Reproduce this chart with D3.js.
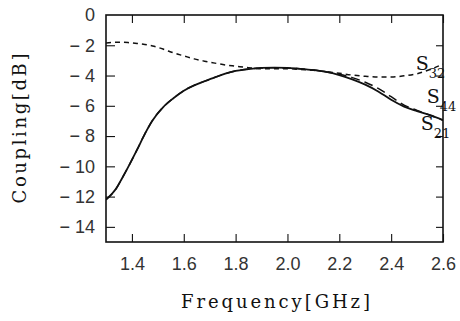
<!DOCTYPE html>
<html>
<head>
<meta charset="utf-8">
<script src="https://cdn.jsdelivr.net/npm/d3@7"></script>
<style>
  html, body { margin: 0; padding: 0; background: #fff; }
  svg { display: block; }
</style>
</head>
<body>
<svg id="chart" width="460" height="321"></svg>
<script>
// ---- data ----
const freq = [1.30, 1.34, 1.36, 1.39, 1.42, 1.45, 1.48, 1.52, 1.56, 1.60, 1.64, 1.68, 1.72, 1.76, 1.80, 1.85, 1.90, 1.95, 2.00, 2.05, 2.10, 2.15, 2.20, 2.25, 2.30, 2.35, 2.40, 2.45, 2.50, 2.55, 2.60];
const s21  = [-12.2, -11.45, -10.85, -9.9, -8.9, -7.85, -6.95, -6.1, -5.5, -5.0, -4.65, -4.38, -4.12, -3.88, -3.7, -3.57, -3.5, -3.48, -3.5, -3.56, -3.64, -3.76, -3.97, -4.25, -4.6, -5.05, -5.6, -6.05, -6.35, -6.62, -6.95];
const s44  = [-12.2, -11.45, -10.85, -9.9, -8.9, -7.85, -6.95, -6.1, -5.5, -5.0, -4.65, -4.38, -4.12, -3.88, -3.7, -3.57, -3.5, -3.48, -3.5, -3.56, -3.64, -3.76, -3.92, -4.14, -4.44, -4.85, -5.4, -5.95, -6.3, -6.62, -6.95];
const s32  = [-1.85, -1.8, -1.8, -1.83, -1.88, -1.95, -2.05, -2.25, -2.5, -2.7, -2.9, -3.05, -3.18, -3.3, -3.38, -3.48, -3.55, -3.55, -3.55, -3.6, -3.65, -3.75, -3.85, -3.97, -4.05, -4.1, -4.1, -4.02, -3.88, -3.6, -3.25];
const xTicks = [1.4, 1.6, 1.8, 2.0, 2.2, 2.4, 2.6];
const xTickLabels = ["1.4", "1.6", "1.8", "2.0", "2.2", "2.4", "2.6"];
const yTicks = [0, -2, -4, -6, -8, -10, -12, -14];
const yTickLabels = ["0", "\u2212 2", "\u2212 4", "\u2212 6", "\u2212 8", "\u2212 10", "\u2212 12", "\u2212 14"];
const seriesNames = ["S21", "S44", "S32"];
const xTitle = "Frequency[GHz]";
const yTitle = "Coupling[dB]";

// ---- layout ----
const L = 106, R = 443, T = 15, B = 242;
const svg = d3.select("#chart");
const x = d3.scaleLinear().domain([1.3, 2.6]).range([L, R]);
const y = d3.scaleLinear().domain([-15, 0]).range([B, T]);
const ink = "#111";
const tickFont = "'Liberation Sans', Arial, sans-serif";
const serif = "'DejaVu Serif', serif";

// axes with inward ticks
const gB = svg.append("g").attr("transform", `translate(0,${B})`)
  .call(d3.axisBottom(x).tickValues(xTicks).tickSize(-8).tickPadding(15)
    .tickFormat((d, i) => xTickLabels[i]));
const gT = svg.append("g").attr("transform", `translate(0,${T})`)
  .call(d3.axisTop(x).tickValues(xTicks).tickSize(-8).tickFormat(""));
const gL = svg.append("g").attr("transform", `translate(${L},0)`)
  .call(d3.axisLeft(y).tickValues(yTicks).tickSize(-9).tickPadding(11)
    .tickFormat((d, i) => yTickLabels[i]));
const gR = svg.append("g").attr("transform", `translate(${R},0)`)
  .call(d3.axisRight(y).tickValues(yTicks.filter(v => v !== 0)).tickSize(-7).tickFormat(""));

[gB, gT, gL, gR].forEach(g => {
  g.select(".domain").remove();
  g.selectAll(".tick line").attr("stroke", ink).attr("stroke-width", 1.1);
  g.selectAll(".tick text").attr("fill", "#333").attr("font-family", tickFont)
    .attr("font-size", 18).style("white-space", "pre");
});
gL.selectAll(".tick").filter(d => d === 0).select("line").remove();

// frame
svg.append("rect").attr("x", L).attr("y", T).attr("width", R - L).attr("height", B - T)
  .attr("fill", "none").attr("stroke", ink).attr("stroke-width", 1.6);

// lines
const line = vals => d3.line().x((d, i) => x(freq[i])).y(d => y(d)).curve(d3.curveMonotoneX)(vals);
svg.append("clipPath").attr("id", "plot").append("rect")
  .attr("x", L).attr("y", T).attr("width", R - L).attr("height", B - T);
const gLines = svg.append("g").attr("clip-path", "url(#plot)");
gLines.append("path").attr("d", line(s32)).attr("fill", "none").attr("stroke", ink)
  .attr("stroke-width", 1.5).attr("stroke-dasharray", "5,4");
gLines.append("path").attr("d", line(s44)).attr("fill", "none").attr("stroke", ink)
  .attr("stroke-width", 1.5).attr("stroke-dasharray", "9,5");
gLines.append("path").attr("d", line(s21)).attr("fill", "none").attr("stroke", ink)
  .attr("stroke-width", 1.8);

// series labels (anchor in data units)
const labelAnchors = { S32: [2.495, -3.65], S44: [2.537, -5.8], S21: [2.514, -7.6] };
seriesNames.forEach(n => {
  const [fx, fy] = labelAnchors[n];
  const t = svg.append("text").attr("x", x(fx)).attr("y", y(fy))
    .attr("font-family", serif).attr("fill", ink);
  t.append("tspan").attr("font-size", 19).text(n[0]);
  t.append("tspan").attr("font-size", 13).attr("dy", 8).text(n.slice(1));
});

// axis titles
svg.append("text").attr("x", (L + R) / 2 + 1).attr("y", 308).attr("text-anchor", "middle")
  .attr("font-family", serif).attr("font-size", 18).attr("fill", ink)
  .attr("textLength", 189).attr("lengthAdjust", "spacing").text(xTitle);
svg.append("text").attr("transform", `translate(26,${(T + B) / 2}) rotate(-90)`)
  .attr("text-anchor", "middle").attr("font-family", serif).attr("font-size", 18)
  .attr("fill", ink).attr("textLength", 150).attr("lengthAdjust", "spacing").text(yTitle);
</script>
</body>
</html>
